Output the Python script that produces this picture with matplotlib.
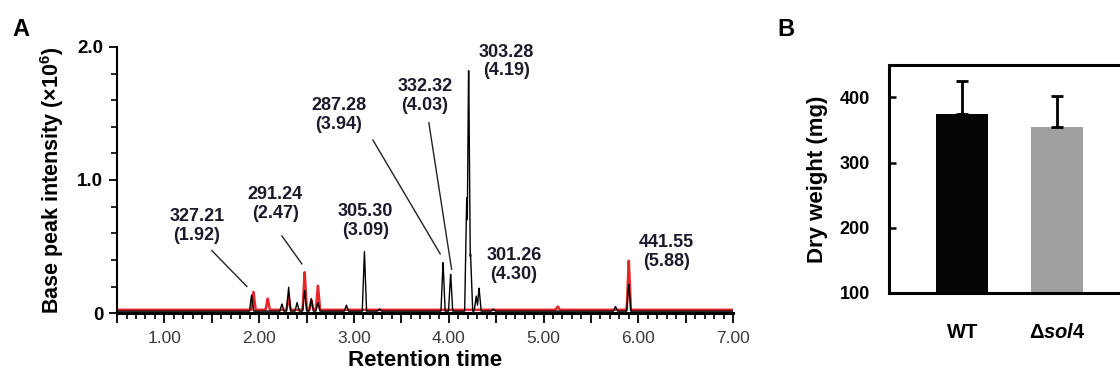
import matplotlib
matplotlib.use("Agg")
import matplotlib.pyplot as plt
import numpy as np
from matplotlib.ticker import MultipleLocator, FuncFormatter

plt.rcParams['font.family'] = ['Liberation Sans', 'DejaVu Sans']
plt.rcParams['mathtext.fontset'] = 'custom'
plt.rcParams['mathtext.rm'] = 'Liberation Sans:bold'
plt.rcParams['mathtext.bf'] = 'Liberation Sans:bold'
plt.rcParams['mathtext.it'] = 'Liberation Sans:bold:italic'

# --- panel A: base peak chromatograms (apex retention time, intensity x10^6)
black_rt = [1.92, 2.24, 2.31, 2.40, 2.48, 2.55, 2.62, 2.92, 3.11, 3.27,
            3.94, 4.02, 4.19, 4.21, 4.23, 4.29, 4.32, 4.47, 5.76, 5.90]
black_int = [0.14, 0.07, 0.20, 0.08, 0.17, 0.11, 0.08, 0.06, 0.47, 0.03,
             0.39, 0.30, 0.88, 1.89, 0.45, 0.13, 0.19, 0.03, 0.05, 0.22]
black_base = 0.015

red_rt = [1.94, 2.09, 2.31, 2.48, 2.55, 2.62, 5.15, 5.90]
red_int = [0.16, 0.11, 0.13, 0.31, 0.10, 0.21, 0.05, 0.40]
red_base = 0.025

ann_mz = ['327.21', '291.24', '305.30', '287.28', '332.32', '303.28', '301.26', '441.55']
ann_rt = ['1.92', '2.47', '3.09', '3.94', '4.03', '4.19', '4.30', '5.88']

# --- panel B: dry weight
strains = ['WT', r'Δ$\mathit{sol4}$']
dry_weight = [374, 355]
dry_weight_sd = [52, 47]


def trace(rts, heights, base, grid, half_width=0.022):
    y = np.full_like(grid, base)
    for rt, h in zip(rts, heights):
        peak = np.interp(grid, [rt - half_width, rt, rt + half_width], [base, h, base])
        y = np.maximum(y, peak)
    return y


fig = plt.figure(figsize=(11.2, 3.75), dpi=100)

# ---------------- panel A
ax = fig.add_axes([0.1045, 0.165, 0.5500, 0.710])
grid = np.linspace(0.5, 7.0, 4000)
ax.plot(grid, trace(red_rt, red_int, red_base, grid), color='#e8262a', lw=1.8, zorder=2)
ax.plot(grid, trace(black_rt, black_int, black_base, grid), color='black', lw=1.0, zorder=3)

ax.set_xlim(0.5, 7.0)
ax.set_ylim(0, 2.0)
for s in ['top', 'right']:
    ax.spines[s].set_visible(False)
ax.spines['left'].set_linewidth(1.5)
ax.spines['bottom'].set_linewidth(2.2)

ax.xaxis.set_major_locator(MultipleLocator(0.5))
ax.xaxis.set_minor_locator(MultipleLocator(0.1))
ax.xaxis.set_major_formatter(FuncFormatter(lambda v, p: f'{v:.2f}' if abs(v - round(v)) < 1e-6 else ''))
ax.yaxis.set_major_locator(MultipleLocator(1.0))
ax.yaxis.set_minor_locator(MultipleLocator(0.2))
ax.yaxis.set_major_formatter(FuncFormatter(lambda v, p: '0' if v == 0 else f'{v:.1f}'))
ax.tick_params(axis='x', which='major', direction='out', length=7, width=1.3,
               labelsize=12.5, labelcolor='#3a3a3a', pad=6)
ax.tick_params(axis='x', which='minor', direction='out', length=4, width=1.2)
ax.tick_params(axis='y', which='major', direction='out', length=6, width=1.3, labelsize=13.5, pad=4)
ax.tick_params(axis='y', which='minor', direction='out', length=4, width=1.2)
for lbl in ax.get_yticklabels():
    lbl.set_fontweight('bold')

ax.set_xlabel('Retention time', fontsize=16, fontweight='bold', labelpad=3)
ax.set_ylabel(r'Base peak intensity (×10$^{6}$)', fontsize=15.5, fontweight='bold', labelpad=8)

text_pos = [(1.344, 0.657), (2.17, 0.82), (3.12, 0.69), (2.84, 1.49),
            (3.75, 1.63), (4.61, 1.89), (4.69, 0.36), (6.30, 0.46)]
for mz, rt, (tx, ty) in zip(ann_mz, ann_rt, text_pos):
    ax.text(tx, ty, f'{mz}\n({rt})', ha='center', va='center', fontsize=13,
            fontweight='bold', color='#1a1a2a', linespacing=1.15)

leaders = [((1.50, 0.47), (1.87, 0.20)), ((2.24, 0.58), (2.45, 0.37)),
           ((3.20, 1.30), (3.91, 0.445)), ((3.79, 1.43), (4.03, 0.33))]
for (x0, y0), (x1, y1) in leaders:
    ax.plot([x0, x1], [y0, y1], color='#222222', lw=1.0)

# ---------------- panel B
bx = fig.add_axes([0.794, 0.219, 0.216, 0.608])
x = np.arange(len(strains))
bx.bar(x, np.array(dry_weight) - 100, bottom=100, width=0.55,
       color=['#050505', '#a0a0a0'], zorder=2)
bx.errorbar(x, dry_weight, yerr=[[0, 0], dry_weight_sd], fmt='none', ecolor='black',
            elinewidth=2, capsize=4.5, capthick=2, zorder=3)
bx.set_xlim(-0.768, 1.78)
bx.set_ylim(100, 450)
bx.set_yticks([100, 200, 300, 400])
bx.set_xticks(x)
bx.set_xticklabels(strains, fontsize=14.5, fontweight='bold')
bx.tick_params(axis='x', length=0, pad=22)
bx.tick_params(axis='y', direction='in', length=5, width=1.8, labelsize=13, pad=14)
for lbl in bx.get_yticklabels():
    lbl.set_fontweight('bold')
bx.spines['right'].set_visible(False)
for s in ['left', 'top', 'bottom']:
    bx.spines[s].set_linewidth(2.2)
bx.set_ylabel('Dry weight (mg)', fontsize=16, fontweight='bold', labelpad=8)

fig.text(0.011, 0.905, 'A', fontsize=17, fontweight='bold')
fig.text(0.694, 0.905, 'B', fontsize=17, fontweight='bold')

fig.savefig('out.png', dpi=100)
